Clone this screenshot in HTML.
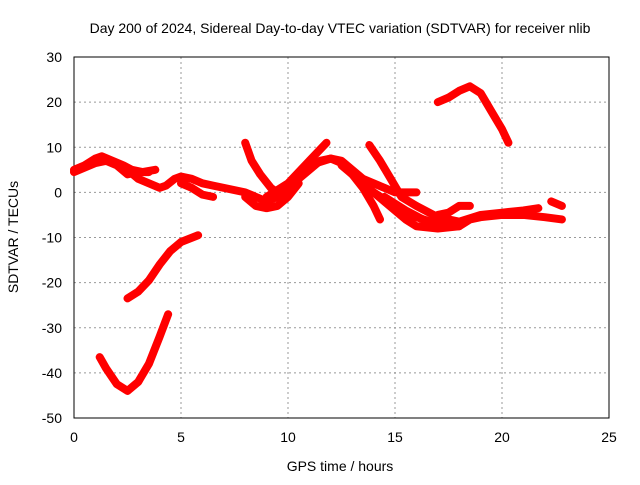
<!DOCTYPE html>
<html><head><meta charset="utf-8"><style>
body{margin:0;background:#fff;}
svg text{font-family:"Liberation Sans",sans-serif;font-size:14px;fill:#000;}
</style></head><body>
<svg id="c" width="640" height="480">
<text x="340" y="33" text-anchor="middle">Day 200 of 2024, Sidereal Day-to-day VTEC variation (SDTVAR) for receiver nlib</text>
<g id="grid"></g>
<rect x="74" y="57" width="535" height="361" fill="none" stroke="#000" stroke-width="1"/>
<g id="ticks"></g>
<g id="series"></g>
<text x="340" y="471" text-anchor="middle">GPS time / hours</text>
<text x="0" y="0" transform="translate(18,237) rotate(-90)" text-anchor="middle">SDTVAR / TECUs</text>
</svg>
<script>
const xTicks=[0,5,10,15,20,25];
const yTicks=[30,20,10,0,-10,-20,-30,-40,-50];
const trackT=[
[0,0.5,1,1.3,1.8,2.3,2.7,3.2,3.8],
[0,1,1.5,2,2.5,3,3.5],
[2.5,3,3.5,4,4.3,4.7,5,5.5,6,6.5,7,7.5,8,8.5,9,9.5,10,10.5,11,11.5,12,12.5,13,13.5,14,14.5,15,15.5,16],
[5,5.5,6,6.5],
[8,8.5,9,9.5,10,10.5],
[9,10,11,11.8],
[8,8.3,8.7,9.2,9.5],
[11,12,12.5,13,13.5,14,14.3],
[12.5,13.5,14.5,15,15.5,16,17,18,18.5,19,20,21,22,22.8],
[13.8,14.3,14.8,15.3,16,17,18,19,20,21,21.7],
[14,15,16,17,18],
[14.5,15.5,16.5,17.5],
[17,17.5,18,18.5],
[22.3,22.8],
[17,17.5,18,18.5,19,19.5,20,20.3],
[1.2,1.5,2,2.5,3,3.5,4,4.4],
[2.5,3,3.5,4,4.5,5,5.8]
];
const trackV=[
[5,6,7.5,8,7,6,5,4.5,5],
[4.5,6.5,7,6,4,4.5,4.5],
[5,3,2,1,1.5,3,3.5,3,2,1.5,1,0.5,0,-1,-2,-1,1,3,5,7,7.5,7,5,3,2,1,0,0,0],
[2,1,-0.5,-1],
[-1,-3,-3.5,-3,-1,2],
[-1,2,7,11],
[11,7,4,1,0],
[6,7.5,6.5,4,1,-3,-6],
[6,2,-2,-4,-6,-7.5,-8,-7.5,-6,-5.5,-5,-5,-5.5,-6],
[10.5,7,3,-1,-3,-5.5,-6.5,-5,-4.5,-4,-3.5],
[0,-3,-5.5,-7,-7.5],
[-1,-4,-6.5,-7.5],
[-5,-4.5,-3,-3],
[-2,-3],
[20,21,22.5,23.5,22,18,14,11],
[-36.5,-39,-42.5,-44,-42,-38,-32,-27],
[-23.5,-22,-19.5,-16,-13,-11,-9.5]
];
const X=t=>74+t*21.4, Y=v=>57+(30-v)*4.5125;
const NS='http://www.w3.org/2000/svg';
const g=document.getElementById('grid'),tk=document.getElementById('ticks'),s=document.getElementById('series');
function mk(tag,a,p){const e=document.createElementNS(NS,tag);for(const k in a)e.setAttribute(k,a[k]);p.appendChild(e);return e;}
xTicks.forEach(t=>{const x=X(t);
 if(t>0&&t<25){const l=mk('line',{x1:x,x2:x,y1:57,y2:418,stroke:'#999','stroke-dasharray':'2,3'},g);
 
 }
 const e=mk('text',{x:x,y:442,'text-anchor':'middle'},tk);e.textContent=t;
 
 });
yTicks.forEach(v=>{const y=Y(v);
 if(v<30&&v>-50){const l=mk('line',{x1:74,x2:609,y1:y,y2:y,stroke:'#999','stroke-dasharray':'2,3'},g);
 
 }
 const e=mk('text',{x:62,y:y+5,'text-anchor':'end'},tk);e.textContent=v;
 
 });
trackT.forEach((ts,i)=>{const pts=ts.map((t,j)=>X(t)+','+Y(trackV[i][j])).join(' ');
 const p=mk('polyline',{points:pts,fill:'none',stroke:'#f00','stroke-width':8,'stroke-linejoin':'round','stroke-linecap':'round'},s);
 
 });
</script>
</body></html>
